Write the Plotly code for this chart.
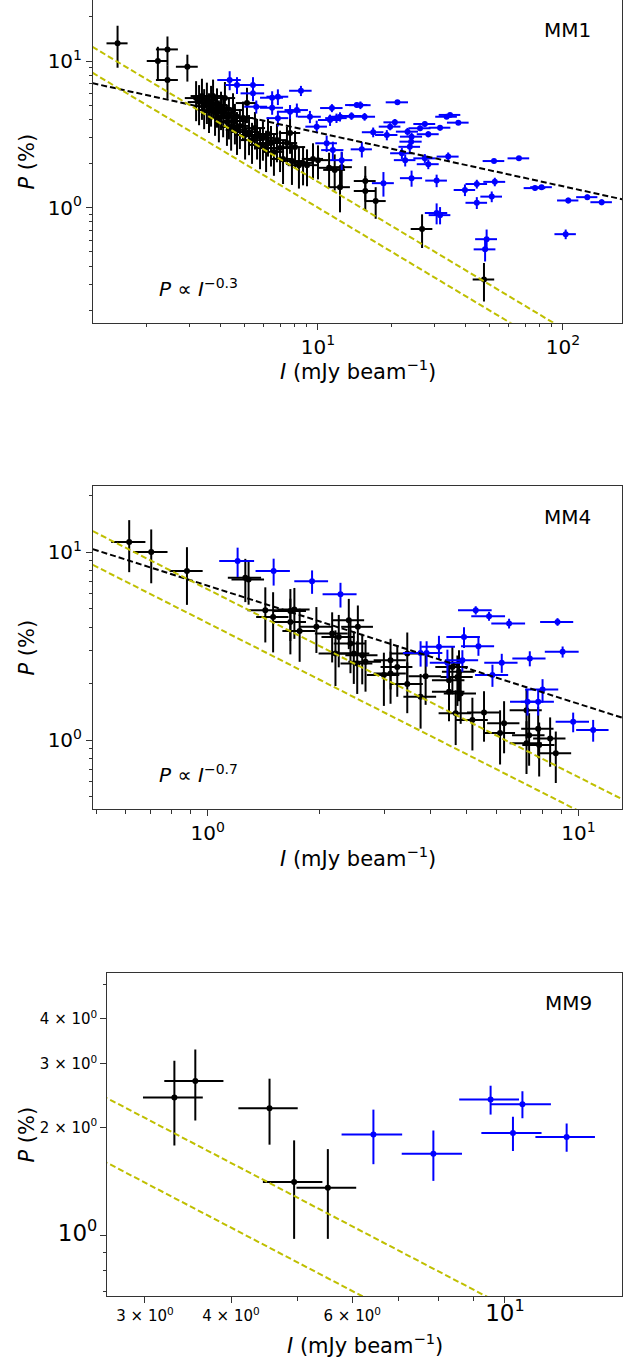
import plotly.graph_objects as go

FONT = "DejaVu Sans"
BLACK = "#000000"
BLUE = "#0000ff"
YELLOW = "#bfbf00"
AX = "#333333"

# ---------------- MM1 ----------------
mm1_black_I = [1.52, 2.22, 2.43, 2.43, 2.93, 3.18, 3.27, 3.36, 3.43, 3.52, 3.59, 3.66, 3.73, 3.80, 3.87, 3.94,
               4.02, 4.10, 4.17, 4.25, 4.33, 4.42, 4.50, 4.58, 4.67, 4.80, 4.94, 5.04, 5.13, 5.23, 5.38, 5.53,
               5.64, 5.80, 5.96, 6.14, 6.25, 6.43, 6.61, 6.80, 7.00, 7.20, 7.47, 7.69, 7.83, 8.06, 8.36, 8.69,
               9.02, 9.54, 10.0, 11.1, 11.7, 12.3, 12.5, 15.6, 15.6, 17.2, 26.6, 47.6]
mm1_black_P = [13.2, 10.0, 12.0, 7.42, 9.14, 5.59, 5.25, 5.77, 4.93, 5.42, 4.63, 5.17, 5.77, 4.49, 5.01, 4.09,
               4.78, 4.42, 5.59, 3.84, 4.22, 3.55, 4.63, 3.90, 3.39, 3.61, 4.09, 3.13, 5.17, 3.28, 2.89, 3.49,
               3.08, 2.68, 2.99, 2.55, 3.18, 2.76, 2.40, 2.89, 2.55, 2.15, 2.76, 3.23, 2.08, 2.59, 1.95, 2.02,
               1.95, 2.15, 2.11, 1.87, 1.81, 1.38, 1.89, 1.52, 1.30, 1.11, 0.716, 0.324]
mm1_black_dI = [0.15, 0.22, 0.25, 0.25, 0.30, 0.32, 0.33, 0.34, 0.34, 0.35, 0.36, 0.37, 0.37, 0.38, 0.39, 0.39,
                0.40, 0.41, 0.42, 0.43, 0.43, 0.44, 0.45, 0.46, 0.47, 0.48, 0.49, 0.50, 0.51, 0.52, 0.54, 0.55,
                0.56, 0.58, 0.60, 0.61, 0.62, 0.64, 0.66, 0.68, 0.70, 0.72, 0.75, 0.77, 0.78, 0.80, 0.84, 0.87,
                0.90, 0.95, 1.0, 1.1, 1.2, 1.2, 1.25, 1.6, 1.6, 1.7, 2.7, 4.8]
mm1_black_dP = [4.2, 2.5, 2.7, 1.9, 1.9, 1.7, 1.6, 1.8, 1.5, 1.7, 1.4, 1.6, 1.7, 1.4, 1.5, 1.3,
                1.4, 1.4, 1.6, 1.2, 1.3, 1.1, 1.4, 1.2, 1.1, 1.1, 1.2, 1.0, 1.4, 1.0, 0.9, 1.0,
                0.95, 0.85, 0.9, 0.8, 0.95, 0.85, 0.75, 0.85, 0.8, 0.7, 0.8, 0.9, 0.65, 0.75, 0.6, 0.6,
                0.55, 0.6, 0.55, 0.5, 0.5, 0.45, 0.5, 0.4, 0.35, 0.27, 0.185, 0.095]

mm1_blue_I = [4.36, 4.67, 5.43, 5.43, 6.5, 6.86, 8.52, 5.6, 6.5, 7.69, 8.2, 6.86, 9.27, 9.88, 11.2, 11.9,
              11.4, 14.4, 10.85, 11.5, 12.5, 12.3, 13.7, 15.5, 14.9, 21.1, 16.8, 19.1, 19.7, 20.6, 23.2, 24.1,
              26.1, 27.3, 28.2, 31.5, 33.5, 34.6, 37.4, 24.0, 23.7, 22.0, 22.7, 27.3, 28.2, 34.0, 15.1, 18.5,
              24.1, 30.5, 39.8, 44.5, 52.7, 51.2, 44.5, 52.3, 66.1, 76.9, 81.8, 105.1, 125.7, 143.9, 102.6,
              30.5, 31.5, 48.8, 48.1]
mm1_blue_P = [7.42, 6.86, 6.86, 6.02, 5.62, 5.71, 6.27, 4.88, 4.8, 4.51, 4.63, 4.08, 4.17, 3.57, 3.96, 4.08,
              4.78, 5.01, 2.75, 2.47, 2.11, 4.17, 4.22, 4.17, 5.0, 5.23, 3.27, 3.13, 3.57, 3.82, 3.30, 3.05,
              3.48, 3.72, 3.17, 3.51, 4.17, 4.29, 3.80, 2.82, 2.60, 2.35, 2.11, 2.17, 1.98, 2.23, 2.50, 1.47,
              1.59, 1.53, 1.32, 1.45, 1.50, 1.19, 1.08, 2.08, 2.17, 1.36, 1.38, 1.12, 1.18, 1.09, 0.66,
              0.92, 0.89, 0.61, 0.52]
mm1_blue_dI = [0.48, 0.5, 0.6, 0.6, 0.7, 0.7, 0.9, 0.6, 0.7, 0.8, 0.9, 0.7, 1.0, 1.0, 1.2, 1.2,
               1.2, 1.5, 1.1, 1.2, 1.3, 1.3, 1.4, 1.6, 1.5, 2.2, 1.7, 2.0, 2.0, 2.1, 2.4, 2.5,
               2.7, 2.8, 2.9, 3.2, 3.4, 3.5, 3.8, 2.5, 2.4, 2.3, 2.3, 2.8, 2.9, 3.5, 1.5, 1.9,
               2.5, 3.1, 4.0, 4.5, 5.4, 5.2, 4.5, 5.3, 6.7, 7.8, 8.3, 10.5, 12.5, 14.5, 10.3,
               3.2, 3.2, 5.0, 4.9]
mm1_blue_dP = [1.1, 0.9, 0.9, 0.7, 0.6, 0.7, 0.5, 0.5, 0.5, 0.5, 0.5, 0.5, 0.4, 0.35, 0.35, 0.3,
               0.3, 0.2, 0.35, 0.35, 0.3, 0.3, 0.25, 0.25, 0.3, 0.15, 0.25, 0.25, 0.2, 0.2, 0.2, 0.2,
               0.15, 0.15, 0.15, 0.15, 0.15, 0.15, 0.12, 0.25, 0.2, 0.2, 0.2, 0.15, 0.15, 0.15, 0.3, 0.28,
               0.2, 0.15, 0.12, 0.1, 0.1, 0.1, 0.1, 0.06, 0.06, 0.05, 0.05, 0.05, 0.05, 0.05, 0.05,
               0.15, 0.12, 0.1, 0.09]

mm1_fit_I = [1.2, 175.0]
mm1_fit_P = [7.06, 1.14]
mm1_y1_I = [1.2, 100.0]
mm1_y1_P = [12.5, 0.15]
mm1_y2_I = [1.2, 100.0]
mm1_y2_P = [8.33, 0.10]

# ---------------- MM4 ----------------
mm4_black_I = [0.614, 0.704, 0.879, 1.263, 1.289, 1.430, 1.501, 1.671, 1.713, 1.671, 1.770, 1.964, 2.166,
               2.257, 2.211, 2.402, 2.427, 2.478, 2.531, 2.541, 2.611, 2.665, 2.987, 3.113, 3.113, 3.246,
               3.454, 3.454, 3.752, 3.871, 4.476, 4.476, 4.666, 4.813, 5.176, 5.564, 6.147, 6.302, 7.244,
               7.362, 7.244, 7.788, 7.837, 8.389, 8.69, 4.716, 4.763, 4.571]
mm4_black_P = [11.34, 10.04, 7.95, 7.33, 7.16, 4.91, 4.53, 4.87, 4.96, 4.26, 3.81, 4.01, 3.69,
               3.54, 2.89, 4.35, 3.27, 2.89, 2.56, 4.01, 2.83, 2.61, 2.22, 2.26, 2.66, 2.45,
               2.89, 1.99, 1.70, 2.19, 1.81, 2.08, 1.39, 1.77, 1.28, 1.40, 1.09, 1.23, 1.44,
               1.06, 0.96, 1.15, 0.94, 1.02, 0.85, 2.17, 2.31, 2.45]
mm4_black_dI = [0.065, 0.075, 0.09, 0.13, 0.13, 0.15, 0.15, 0.17, 0.17, 0.17, 0.18, 0.2, 0.22,
                0.23, 0.22, 0.24, 0.24, 0.25, 0.25, 0.25, 0.26, 0.27, 0.3, 0.31, 0.31, 0.32,
                0.35, 0.35, 0.38, 0.39, 0.45, 0.45, 0.47, 0.48, 0.52, 0.56, 0.6, 0.63, 0.72,
                0.74, 0.72, 0.78, 0.78, 0.84, 0.87, 0.47, 0.48, 0.46]
mm4_black_dP = [3.5, 3.2, 2.7, 1.9, 1.9, 1.6, 1.6, 1.5, 1.5, 1.4, 1.2, 1.1, 1.1,
                1.1, 0.95, 1.3, 1.0, 0.9, 0.8, 1.2, 0.85, 0.8, 0.7, 0.7, 0.8, 0.75,
                0.85, 0.6, 0.55, 0.65, 0.55, 0.6, 0.45, 0.55, 0.4, 0.42, 0.35, 0.38, 0.42,
                0.33, 0.3, 0.35, 0.3, 0.3, 0.26, 0.65, 0.7, 0.7]

mm4_blue_I = [1.204, 1.506, 1.912, 2.281, 5.284, 5.740, 6.501, 8.783, 9.066, 4.913, 5.374, 4.205,
              3.895, 3.752, 4.432, 4.864, 5.863, 6.212, 7.394, 8.003, 7.289, 7.788, 9.68, 10.96]
mm4_blue_P = [8.99, 7.95, 7.01, 5.98, 4.91, 4.57, 4.18, 4.26, 2.95, 3.54, 3.16, 3.14,
              2.91, 2.91, 2.58, 2.66, 2.22, 2.58, 2.72, 1.86, 1.60, 1.60, 1.25, 1.13]
mm4_blue_dI = [0.13, 0.16, 0.2, 0.24, 0.55, 0.6, 0.68, 0.9, 0.95, 0.51, 0.55, 0.44,
               0.4, 0.39, 0.46, 0.5, 0.6, 0.64, 0.76, 0.82, 0.75, 0.8, 1.0, 1.1]
mm4_blue_dP = [1.6, 1.3, 1.0, 0.9, 0.25, 0.25, 0.25, 0.2, 0.2, 0.45, 0.35, 0.45,
               0.45, 0.45, 0.45, 0.35, 0.3, 0.3, 0.25, 0.25, 0.25, 0.25, 0.15, 0.15]

mm4_fit_I = [0.49, 13.2]
mm4_fit_P = [10.4, 1.31]
mm4_y1_I = [0.49, 13.2]
mm4_y1_P = [12.96, 0.481]
mm4_y2_I = [0.49, 13.2]
mm4_y2_P = [8.57, 0.318]

# ---------------- MM9 ----------------
mm9_black_I = [3.31, 3.55, 4.55, 4.94, 5.53]
mm9_black_P = [2.42, 2.69, 2.26, 1.41, 1.36]
mm9_black_dI = [0.33, 0.35, 0.45, 0.49, 0.55]
mm9_black_dP = [0.64, 0.60, 0.47, 0.43, 0.38]

mm9_blue_I = [6.44, 7.87, 9.53, 10.6, 10.27, 12.29]
mm9_blue_P = [1.91, 1.69, 2.39, 2.32, 1.93, 1.88]
mm9_blue_dI = [0.65, 0.79, 0.95, 1.06, 1.03, 1.22]
mm9_blue_dP = [0.33, 0.27, 0.22, 0.20, 0.21, 0.17]

mm9_y1_I = [2.6, 15.0]
mm9_y1_P = [2.45, 0.425]
mm9_y2_I = [2.6, 15.0]
mm9_y2_P = [1.62, 0.281]

W, H = 636, 1361
fig = go.Figure()


def pts(I, P, dI, dP, color, ax):
    fig.add_trace(go.Scatter(
        x=I, y=P, mode="markers", marker=dict(color=color, size=6),
        error_x=dict(type="data", array=dI, visible=True, color=color, thickness=2, width=0),
        error_y=dict(type="data", array=dP, visible=True, color=color, thickness=2, width=0),
        xaxis="x" + ax, yaxis="y" + ax, showlegend=False, hoverinfo="skip"))


def line(I, P, color, ax):
    fig.add_trace(go.Scatter(
        x=I, y=P, mode="lines", line=dict(color=color, width=2, dash="6px,3px"),
        xaxis="x" + ax, yaxis="y" + ax, showlegend=False, hoverinfo="skip"))


pts(mm1_black_I, mm1_black_P, mm1_black_dI, mm1_black_dP, BLACK, "")
pts(mm1_blue_I, mm1_blue_P, mm1_blue_dI, mm1_blue_dP, BLUE, "")
line(mm1_fit_I, mm1_fit_P, BLACK, "")
line(mm1_y1_I, mm1_y1_P, YELLOW, "")
line(mm1_y2_I, mm1_y2_P, YELLOW, "")

pts(mm4_black_I, mm4_black_P, mm4_black_dI, mm4_black_dP, BLACK, "2")
pts(mm4_blue_I, mm4_blue_P, mm4_blue_dI, mm4_blue_dP, BLUE, "2")
line(mm4_fit_I, mm4_fit_P, BLACK, "2")
line(mm4_y1_I, mm4_y1_P, YELLOW, "2")
line(mm4_y2_I, mm4_y2_P, YELLOW, "2")

pts(mm9_black_I, mm9_black_P, mm9_black_dI, mm9_black_dP, BLACK, "3")
pts(mm9_blue_I, mm9_blue_P, mm9_blue_dI, mm9_blue_dP, BLUE, "3")
line(mm9_y1_I, mm9_y1_P, YELLOW, "3")
line(mm9_y2_I, mm9_y2_P, YELLOW, "3")


def px_x(x):
    return x / W


def px_y(y):
    return 1 - y / H


def axis(domain, rng, anchor, tickvals, ticktext, minor_vals, mirror=True, size=20):
    return dict(
        type="log", domain=domain, range=rng, anchor=anchor,
        tickmode="array", tickvals=tickvals, ticktext=ticktext,
        ticks="outside", ticklen=6, tickwidth=1, tickcolor=AX,
        showline=True, linecolor=AX, linewidth=1, mirror=mirror,
        showgrid=False, zeroline=False,
        tickfont=dict(family=FONT, size=size, color="black"),
        minor=dict(tickmode="array", tickvals=minor_vals, ticks="outside",
                   ticklen=3.5, tickwidth=1, tickcolor=AX, showgrid=False),
    )


sup = lambda n: "10<sup>%s</sup>" % n
big = lambda s: '<span style="font-size:23px">%s</span>' % s

xd12 = [px_x(93), px_x(622)]
xd3 = [px_x(107.3), px_x(621.7)]

fig.update_layout(
    width=W, height=H, margin=dict(l=0, r=0, t=0, b=0),
    paper_bgcolor="white", plot_bgcolor="white",
    font=dict(family=FONT, color="black"),
    xaxis=axis(xd12, [0.0816, 2.241], "y", [10, 100], [sup(1), sup(2)],
               [2, 3, 4, 5, 6, 7, 8, 9, 20, 30, 40, 50, 60, 70, 80, 90], mirror=False),
    yaxis=axis([px_y(322.7), 1.0], [-0.784, 1.416], "x", [1, 10], [sup(0), sup(1)],
               [0.2, 0.3, 0.4, 0.5, 0.6, 0.7, 0.8, 0.9, 2, 3, 4, 5, 6, 7, 8, 9, 20]),
    xaxis2=axis(xd12, [-0.3095, 1.1176], "y2", [1, 10], [sup(0), sup(1)],
                [0.5, 0.6, 0.7, 0.8, 0.9, 2, 3, 4, 5, 6, 7, 8, 9]),
    yaxis2=axis([px_y(809.3), px_y(485.5)], [-0.369, 1.356], "x2", [1, 10], [sup(0), sup(1)],
                [0.5, 0.6, 0.7, 0.8, 0.9, 2, 3, 4, 5, 6, 7, 8, 9, 20]),
    xaxis3=axis(xd3, [0.4224, 1.1695], "y3", [3, 4, 6, 10],
                ["3 × " + sup(0), "4 × " + sup(0), "6 × " + sup(0), big(sup(1))],
                [5, 7, 8, 9], size=15),
    yaxis3=axis([px_y(1296), px_y(972.7)], [-0.1675, 0.7306], "x3", [1, 2, 3, 4],
                [big(sup(0)), "2 × " + sup(0), "3 × " + sup(0), "4 × " + sup(0)],
                [0.7, 0.8, 0.9, 5], size=15),
)

ann = []


def text(x, y, s, xanchor="center", angle=0, size=20):
    ann.append(dict(x=px_x(x), y=px_y(y), xref="paper", yref="paper", text=s, showarrow=False,
                    xanchor=xanchor, yanchor="middle", textangle=angle,
                    font=dict(family=FONT, size=size, color="black")))


xlab = "<i>I</i> (mJy beam<sup>−1</sup>)"
ylab = "<i>P</i> (%)"
text(357.5, 370, xlab, size=21)
text(357.5, 857, xlab, size=21)
text(364.5, 1344, xlab, size=21)
text(26, 161.5, ylab, angle=-90, size=21)
text(26, 647.5, ylab, angle=-90, size=21)
text(26, 1134.5, ylab, angle=-90, size=21)
text(593, 30, "MM1", xanchor="right")
text(593, 517, "MM4", xanchor="right")
text(594, 1003, "MM9", xanchor="right")
text(157, 288, "<i>P</i> ∝ <i>I</i><sup>−0.3</sup>", xanchor="left")
text(157, 774, "<i>P</i> ∝ <i>I</i><sup>−0.7</sup>", xanchor="left")
fig.update_layout(annotations=ann)

fig.write_html("out.html")
